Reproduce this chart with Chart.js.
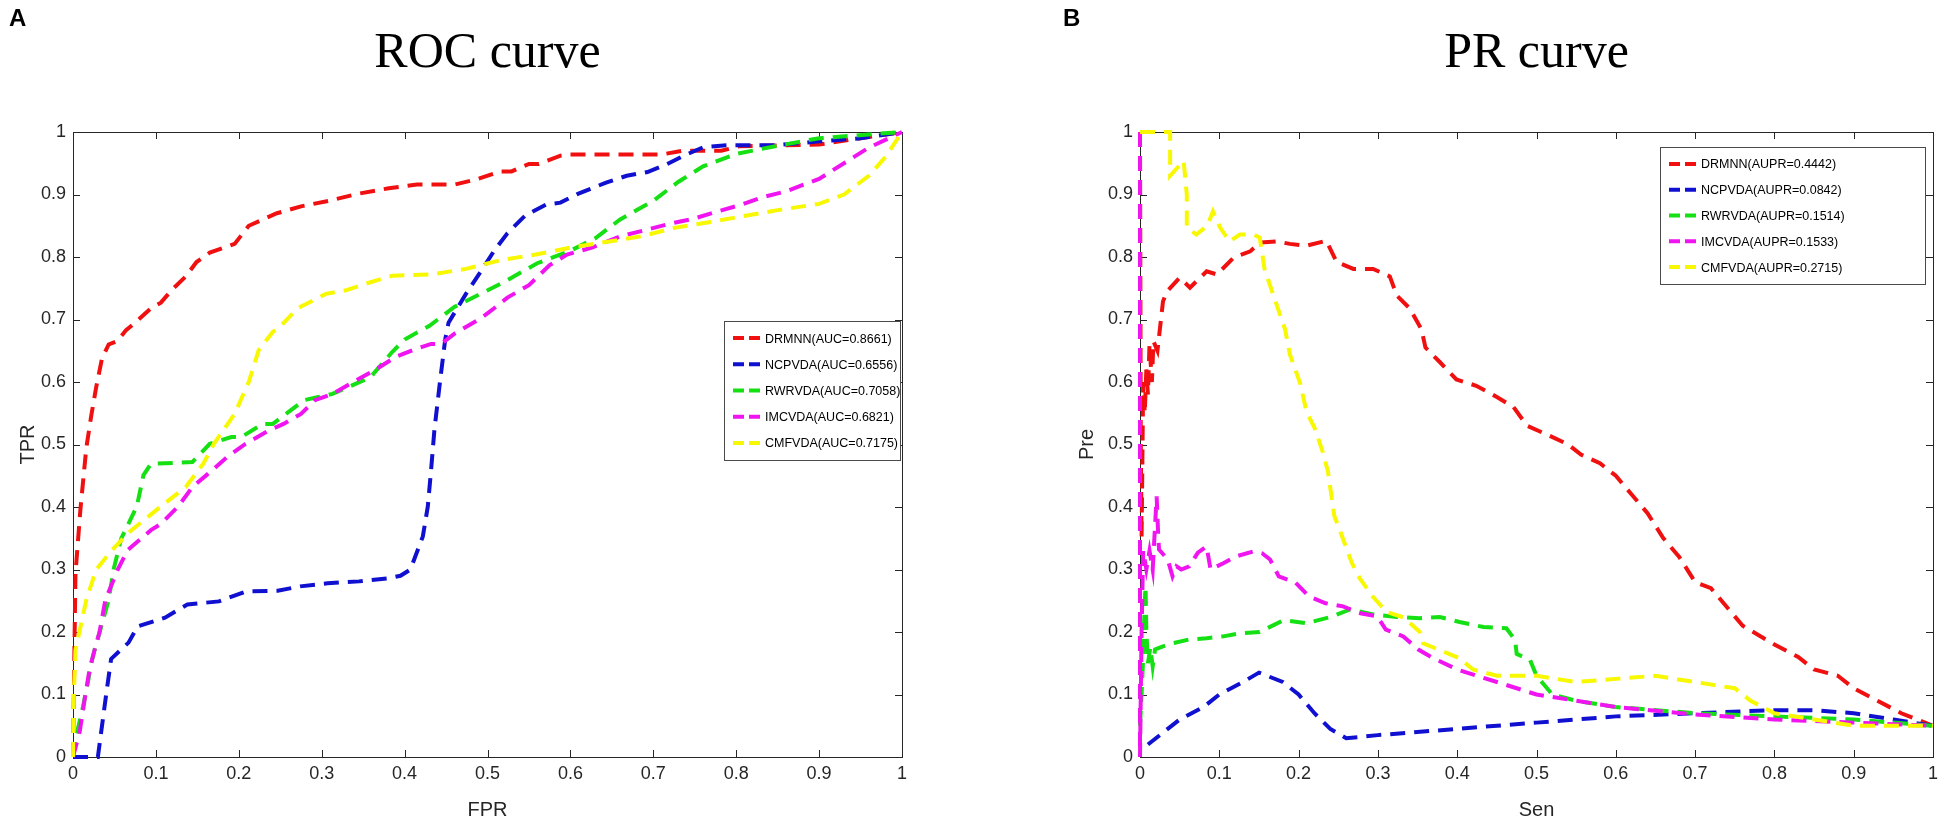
<!DOCTYPE html>
<html>
<head>
<meta charset="utf-8">
<script src="https://cdn.jsdelivr.net/npm/chart.js@4.4.1/dist/chart.umd.min.js"></script>
<style>
  html, body { margin: 0; padding: 0; background: #fff; }
  body { width: 1950px; height: 822px; position: relative; overflow: hidden; }
  .panel { position: absolute; top: 0; width: 975px; height: 822px; }
  .tag { position: absolute; top: 4px; font: bold 24px 'Liberation Sans', Arial, sans-serif; color: #000; }
</style>
</head>
<body>
<div class="panel" style="left:0"><canvas id="roc" width="975" height="822"></canvas></div>
<div class="panel" style="left:975px"><canvas id="pr" width="975" height="822"></canvas></div>
<div class="tag" style="left:9px">A</div>
<div class="tag" style="left:1063px">B</div>
<script>
const methods = ['DRMNN', 'NCPVDA', 'RWRVDA', 'IMCVDA', 'CMFVDA'];
const aucScores = ['0.8661', '0.6556', '0.7058', '0.6821', '0.7175'];
const auprScores = ['0.4442', '0.0842', '0.1514', '0.1533', '0.2715'];
const axisTicks = [0, 0.1, 0.2, 0.3, 0.4, 0.5, 0.6, 0.7, 0.8, 0.9, 1];

// ROC curves, [FPR, TPR]
const rocDRMNN = [[0,0],[0.001,0.1],[0.002,0.2],[0.003,0.294],[0.009,0.397],[0.016,0.494],[0.022,0.546],[0.028,0.592],[0.035,0.638],[0.043,0.66],[0.054,0.666],[0.064,0.683],[0.075,0.695],[0.094,0.718],[0.106,0.727],[0.119,0.747],[0.136,0.769],[0.149,0.792],[0.165,0.807],[0.195,0.821],[0.212,0.85],[0.246,0.87],[0.275,0.881],[0.309,0.89],[0.343,0.901],[0.381,0.91],[0.415,0.916],[0.461,0.916],[0.486,0.924],[0.516,0.937],[0.529,0.937],[0.55,0.949],[0.562,0.949],[0.588,0.962],[0.6,0.964],[0.71,0.964],[0.735,0.97],[0.782,0.97],[0.803,0.977],[0.9,0.98],[0.95,0.99],[1,1]];
const rocNCPVDA = [[0,0],[0.03,0],[0.035,0.05],[0.04,0.1],[0.046,0.157],[0.067,0.183],[0.078,0.209],[0.111,0.223],[0.138,0.244],[0.176,0.249],[0.209,0.265],[0.247,0.266],[0.274,0.273],[0.307,0.278],[0.345,0.281],[0.38,0.286],[0.395,0.29],[0.407,0.3],[0.422,0.353],[0.428,0.401],[0.432,0.46],[0.436,0.524],[0.443,0.604],[0.449,0.668],[0.453,0.695],[0.474,0.741],[0.491,0.775],[0.508,0.81],[0.524,0.838],[0.546,0.867],[0.571,0.884],[0.588,0.887],[0.609,0.901],[0.626,0.91],[0.643,0.919],[0.668,0.93],[0.693,0.936],[0.714,0.947],[0.74,0.964],[0.761,0.976],[0.79,0.979],[0.85,0.979],[0.9,0.985],[0.95,0.99],[1,1]];
const rocRWRVDA = [[0,0],[0.005,0.04],[0.012,0.08],[0.018,0.12],[0.022,0.15],[0.026,0.171],[0.043,0.251],[0.049,0.3],[0.058,0.349],[0.077,0.401],[0.085,0.451],[0.094,0.469],[0.144,0.472],[0.165,0.501],[0.191,0.512],[0.203,0.512],[0.229,0.533],[0.241,0.533],[0.279,0.571],[0.296,0.576],[0.313,0.581],[0.351,0.603],[0.359,0.608],[0.385,0.648],[0.4,0.668],[0.43,0.69],[0.46,0.72],[0.49,0.74],[0.52,0.76],[0.56,0.79],[0.6,0.81],[0.63,0.83],[0.66,0.86],[0.7,0.89],[0.73,0.92],[0.76,0.945],[0.8,0.965],[0.85,0.978],[0.9,0.99],[1,1]];
const rocIMCVDA = [[0,0],[0.008,0.04],[0.015,0.1],[0.02,0.14],[0.026,0.171],[0.032,0.2],[0.039,0.251],[0.054,0.3],[0.066,0.331],[0.094,0.363],[0.106,0.373],[0.127,0.401],[0.144,0.432],[0.161,0.451],[0.186,0.48],[0.208,0.501],[0.237,0.523],[0.254,0.533],[0.275,0.549],[0.292,0.571],[0.313,0.581],[0.338,0.6],[0.364,0.619],[0.389,0.64],[0.41,0.651],[0.432,0.661],[0.444,0.661],[0.461,0.678],[0.491,0.701],[0.508,0.718],[0.524,0.735],[0.55,0.755],[0.575,0.787],[0.596,0.804],[0.626,0.815],[0.66,0.833],[0.693,0.844],[0.719,0.853],[0.748,0.861],[0.778,0.873],[0.807,0.884],[0.83,0.895],[0.86,0.905],[0.9,0.925],[0.93,0.95],[0.96,0.975],[1,1]];
const rocCMFVDA = [[0,0],[0.001,0.1],[0.003,0.171],[0.016,0.251],[0.028,0.3],[0.047,0.331],[0.068,0.36],[0.106,0.401],[0.136,0.432],[0.157,0.469],[0.17,0.501],[0.195,0.549],[0.212,0.6],[0.224,0.651],[0.241,0.68],[0.25,0.689],[0.271,0.718],[0.305,0.741],[0.33,0.747],[0.355,0.758],[0.385,0.77],[0.432,0.772],[0.474,0.781],[0.516,0.795],[0.558,0.804],[0.6,0.815],[0.643,0.824],[0.685,0.833],[0.727,0.847],[0.769,0.856],[0.811,0.866],[0.85,0.875],[0.9,0.885],[0.93,0.9],[0.96,0.93],[0.98,0.96],[1,1]];

// PR curves, [Sen, Pre]
const prDRMNN = [[0,1],[0.001,0.5],[0.002,0.35],[0.004,0.6],[0.006,0.55],[0.008,0.62],[0.01,0.58],[0.012,0.66],[0.015,0.6],[0.017,0.665],[0.022,0.65],[0.029,0.729],[0.034,0.745],[0.05,0.767],[0.063,0.751],[0.071,0.761],[0.084,0.777],[0.097,0.772],[0.118,0.799],[0.139,0.809],[0.151,0.823],[0.172,0.825],[0.189,0.821],[0.21,0.818],[0.235,0.826],[0.248,0.792],[0.269,0.781],[0.294,0.781],[0.315,0.769],[0.324,0.738],[0.34,0.718],[0.355,0.684],[0.36,0.655],[0.378,0.632],[0.399,0.604],[0.424,0.594],[0.45,0.576],[0.471,0.56],[0.488,0.53],[0.513,0.516],[0.54,0.5],[0.556,0.484],[0.58,0.47],[0.6,0.45],[0.62,0.42],[0.64,0.39],[0.66,0.35],[0.68,0.32],[0.7,0.28],[0.72,0.27],[0.74,0.24],[0.76,0.21],[0.8,0.18],[0.83,0.16],[0.85,0.14],[0.88,0.13],[0.9,0.11],[0.93,0.09],[0.96,0.07],[0.98,0.06],[1,0.05]];
const prNCPVDA = [[0.01,0.02],[0.03,0.04],[0.05,0.06],[0.08,0.08],[0.1,0.1],[0.13,0.12],[0.15,0.135],[0.16,0.13],[0.18,0.12],[0.2,0.1],[0.22,0.07],[0.24,0.045],[0.26,0.03],[0.3,0.035],[0.4,0.045],[0.5,0.055],[0.6,0.065],[0.7,0.07],[0.8,0.075],[0.85,0.075],[0.9,0.07],[0.95,0.06],[1,0.05]];
const prRWRVDA = [[0,0.05],[0.002,0.1],[0.004,0.16],[0.006,0.25],[0.007,0.273],[0.008,0.204],[0.01,0.15],[0.013,0.175],[0.016,0.145],[0.019,0.172],[0.029,0.177],[0.041,0.182],[0.062,0.188],[0.084,0.19],[0.105,0.193],[0.127,0.198],[0.151,0.2],[0.181,0.219],[0.21,0.214],[0.24,0.224],[0.265,0.236],[0.294,0.228],[0.324,0.224],[0.353,0.222],[0.378,0.224],[0.403,0.216],[0.433,0.208],[0.462,0.206],[0.473,0.187],[0.475,0.165],[0.492,0.155],[0.5,0.13],[0.52,0.1],[0.55,0.09],[0.6,0.08],[0.7,0.07],[0.8,0.065],[0.9,0.06],[1,0.05]];
const prIMCVDA = [[0,1],[0,0],[0.002,0.2],[0.004,0.33],[0.008,0.3],[0.012,0.33],[0.016,0.3],[0.021,0.417],[0.023,0.353],[0.024,0.332],[0.035,0.316],[0.041,0.289],[0.046,0.305],[0.052,0.3],[0.062,0.305],[0.073,0.327],[0.084,0.337],[0.089,0.3],[0.105,0.31],[0.121,0.321],[0.143,0.329],[0.154,0.326],[0.164,0.316],[0.175,0.289],[0.196,0.279],[0.213,0.257],[0.234,0.246],[0.256,0.241],[0.278,0.23],[0.299,0.225],[0.31,0.204],[0.332,0.193],[0.351,0.172],[0.37,0.158],[0.4,0.14],[0.45,0.12],[0.5,0.1],[0.55,0.09],[0.6,0.08],[0.7,0.068],[0.8,0.06],[0.9,0.055],[1,0.05]];
const prCMFVDA = [[0,1],[0.021,1],[0.038,1],[0.038,0.93],[0.055,0.954],[0.059,0.9],[0.059,0.847],[0.071,0.836],[0.085,0.85],[0.092,0.873],[0.101,0.847],[0.113,0.825],[0.126,0.836],[0.143,0.836],[0.151,0.831],[0.157,0.781],[0.166,0.747],[0.183,0.684],[0.189,0.644],[0.202,0.598],[0.21,0.552],[0.22,0.527],[0.23,0.49],[0.237,0.457],[0.245,0.386],[0.254,0.356],[0.267,0.311],[0.277,0.286],[0.294,0.256],[0.311,0.232],[0.333,0.223],[0.353,0.2],[0.357,0.182],[0.378,0.171],[0.403,0.158],[0.42,0.14],[0.45,0.13],[0.5,0.13],[0.55,0.12],[0.6,0.125],[0.65,0.13],[0.7,0.12],[0.75,0.11],[0.77,0.09],[0.8,0.07],[0.85,0.06],[0.9,0.05],[1,0.05]];

const rocCurves = [rocDRMNN, rocNCPVDA, rocRWRVDA, rocIMCVDA, rocCMFVDA];
const prCurves = [prDRMNN, prNCPVDA, prRWRVDA, prIMCVDA, prCMFVDA];
const lineColors = ['#f01010', '#1010d0', '#14e014', '#f014f0', '#f8f800'];

const SANS = "'Liberation Sans', Arial, sans-serif";
const AXIS_COLOR = '#262626';

// MATLAB style box: frame around the plot with inward ticks on all four sides
const axesBox = {
    id: 'axesBox',
    beforeDatasetsDraw(chart)
    {
        const {ctx, chartArea: a, scales: {x, y}} = chart;
        const len = 7;
        ctx.save();
        ctx.strokeStyle = AXIS_COLOR;
        ctx.lineWidth = 1;
        ctx.strokeRect(a.left + 0.5, a.top + 0.5, a.right - a.left, a.bottom - a.top);
        ctx.beginPath();
        x.ticks.forEach(t =>
        {
            const px = Math.round(x.getPixelForValue(t.value)) + 0.5;
            ctx.moveTo(px, a.bottom); ctx.lineTo(px, a.bottom - len);
            ctx.moveTo(px, a.top); ctx.lineTo(px, a.top + len);
        });
        y.ticks.forEach(t =>
        {
            const py = Math.round(y.getPixelForValue(t.value)) + 0.5;
            ctx.moveTo(a.left, py); ctx.lineTo(a.left + len, py);
            ctx.moveTo(a.right, py); ctx.lineTo(a.right - len, py);
        });
        ctx.stroke();
        ctx.restore();
    }
};

// boxed legend drawn inside the plot
const boxLegend = {
    id: 'boxLegend',
    afterDatasetsDraw(chart, args, opts)
    {
        const {ctx} = chart;
        const sets = chart.data.datasets;
        const {left, top, width, height} = opts;
        const row = (height - 8) / sets.length;
        ctx.save();
        ctx.fillStyle = '#fff';
        ctx.fillRect(left, top, width, height);
        ctx.strokeStyle = '#4a4a4a';
        ctx.lineWidth = 1;
        ctx.strokeRect(left + 0.5, top + 0.5, width, height);
        ctx.font = `${opts.fontSize}px ${SANS}`;
        ctx.textBaseline = 'middle';
        sets.forEach((d, i) =>
        {
            const cy = top + 4 + row * (i + 0.5);
            ctx.beginPath();
            ctx.setLineDash([11, 5]);
            ctx.strokeStyle = d.borderColor;
            ctx.lineWidth = 4;
            ctx.moveTo(left + 9, cy);
            ctx.lineTo(left + 36, cy);
            ctx.stroke();
            ctx.setLineDash([]);
            ctx.fillStyle = '#000';
            ctx.fillText(d.label, left + 41, cy + 1);
        });
        ctx.restore();
    }
};

function buildChart(canvasId, curves, scores, metric, titleText, xLabel, yLabel, pad, legendOpts)
{
    const datasets = methods.map((name, i) => ({
        label: `${name}(${metric}=${scores[i]})`,
        data: curves[i].map(([x, y]) => ({x, y})),
        showLine: true,
        borderColor: lineColors[i],
        backgroundColor: lineColors[i],
        borderWidth: 4,
        borderDash: [15, 9],
        pointRadius: 0,
        tension: 0,
        clip: 6,
        order: methods.length - i
    }));

    const tickFmt = v => String(Number(v.toFixed(1)));

    new Chart(document.getElementById(canvasId),
    {
        type: 'scatter',
        data: {datasets},
        options:
        {
            responsive: false,
            animation: false,
            events: [],
            layout: {padding: {left: pad.left, right: pad.right, top: 0, bottom: 0}},
            plugins:
            {
                legend: {display: false},
                tooltip: {enabled: false},
                title:
                {
                    display: true,
                    text: titleText,
                    fullSize: false,
                    color: '#000',
                    font: {family: "'Liberation Serif', 'Times New Roman', serif", size: 50, weight: 'normal', lineHeight: 1.2},
                    padding: {top: 23.5, bottom: 48.5}
                },
                boxLegend: legendOpts
            },
            scales:
            {
                x:
                {
                    type: 'linear',
                    min: 0,
                    max: 1,
                    afterBuildTicks: s => { s.ticks = axisTicks.map(v => ({value: v})); },
                    afterFit: s => { s.height = 65; },
                    grid: {display: false, drawTicks: false},
                    border: {display: false},
                    ticks: {color: AXIS_COLOR, padding: 6, maxRotation: 0, font: {family: SANS, size: 18}, callback: tickFmt},
                    title: {display: true, text: xLabel, color: AXIS_COLOR, font: {family: SANS, size: 20}, padding: {top: 0, bottom: 0}}
                },
                y:
                {
                    type: 'linear',
                    min: 0,
                    max: 1,
                    afterBuildTicks: s => { s.ticks = axisTicks.map(v => ({value: v})); },
                    afterFit: s => { s.width = 73; },
                    grid: {display: false, drawTicks: false},
                    border: {display: false},
                    ticks: {color: AXIS_COLOR, padding: 7, font: {family: SANS, size: 18}, callback: tickFmt},
                    title: {display: true, text: yLabel, color: AXIS_COLOR, font: {family: SANS, size: 20}, padding: {top: pad.yTitle, bottom: 0}}
                }
            }
        },
        plugins: [axesBox, boxLegend]
    });
}

buildChart('roc', rocCurves, aucScores, 'AUC', 'ROC curve', 'FPR', 'TPR',
    {left: 0, right: 73, yTitle: 16}, {left: 724, top: 321, width: 176, height: 139, fontSize: 12.5});
buildChart('pr', prCurves, auprScores, 'AUPR', 'PR curve', 'Sen', 'Pre',
    {left: 92, right: 17, yTitle: 8}, {left: 685, top: 147, width: 265, height: 137, fontSize: 12.5});
</script>
</body>
</html>
